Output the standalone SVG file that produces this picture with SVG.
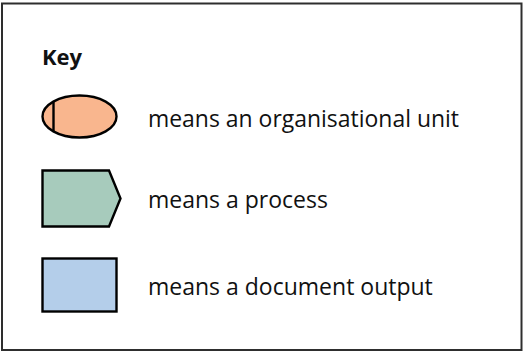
<svg xmlns="http://www.w3.org/2000/svg" width="524" height="352" viewBox="0 0 524 352">
  <style>
    .frame { fill: #ffffff; stroke: #2e2e2e; stroke-width: 2; }
    .shape { stroke: #000000; stroke-width: 2.4; stroke-linejoin: miter; }
    .unit { fill: #F9B68E; }
    .process { fill: #A7CBBC; }
    .doc { fill: #B4CEEA; }
    .title { font-family: "Open Sans", "Liberation Sans", sans-serif; font-weight: bold; font-size: 22px; fill: #111111; }
    .label { font-family: "Open Sans", "Liberation Sans", sans-serif; font-size: 23px; fill: #111111; }
  </style>

  <!-- outer frame -->
  <rect class="frame" x="2" y="3.5" width="519.5" height="346.5"/>

  <text class="title" x="42" y="65">Key</text>

  <!-- organisational unit symbol -->
  <g id="key-unit">
    <ellipse class="shape unit" cx="79.5" cy="116.5" rx="37" ry="21"/>
    <line class="shape" x1="53.5" y1="101.5" x2="53.5" y2="131.5"/>
    <text class="label" x="148" y="127" textLength="311" lengthAdjust="spacingAndGlyphs">means an organisational unit</text>
  </g>

  <!-- process symbol -->
  <g id="key-process">
    <polygon class="shape process" points="42.5,170.5 109,170.5 120.5,198.5 109,226.5 42.5,226.5"/>
    <text class="label" x="148" y="208">means a process</text>
  </g>

  <!-- document output symbol -->
  <g id="key-document">
    <rect class="shape doc" x="42.5" y="258.5" width="74" height="53" stroke-width="2.7"/>
    <text class="label" x="148" y="295">means a document output</text>
  </g>
</svg>
